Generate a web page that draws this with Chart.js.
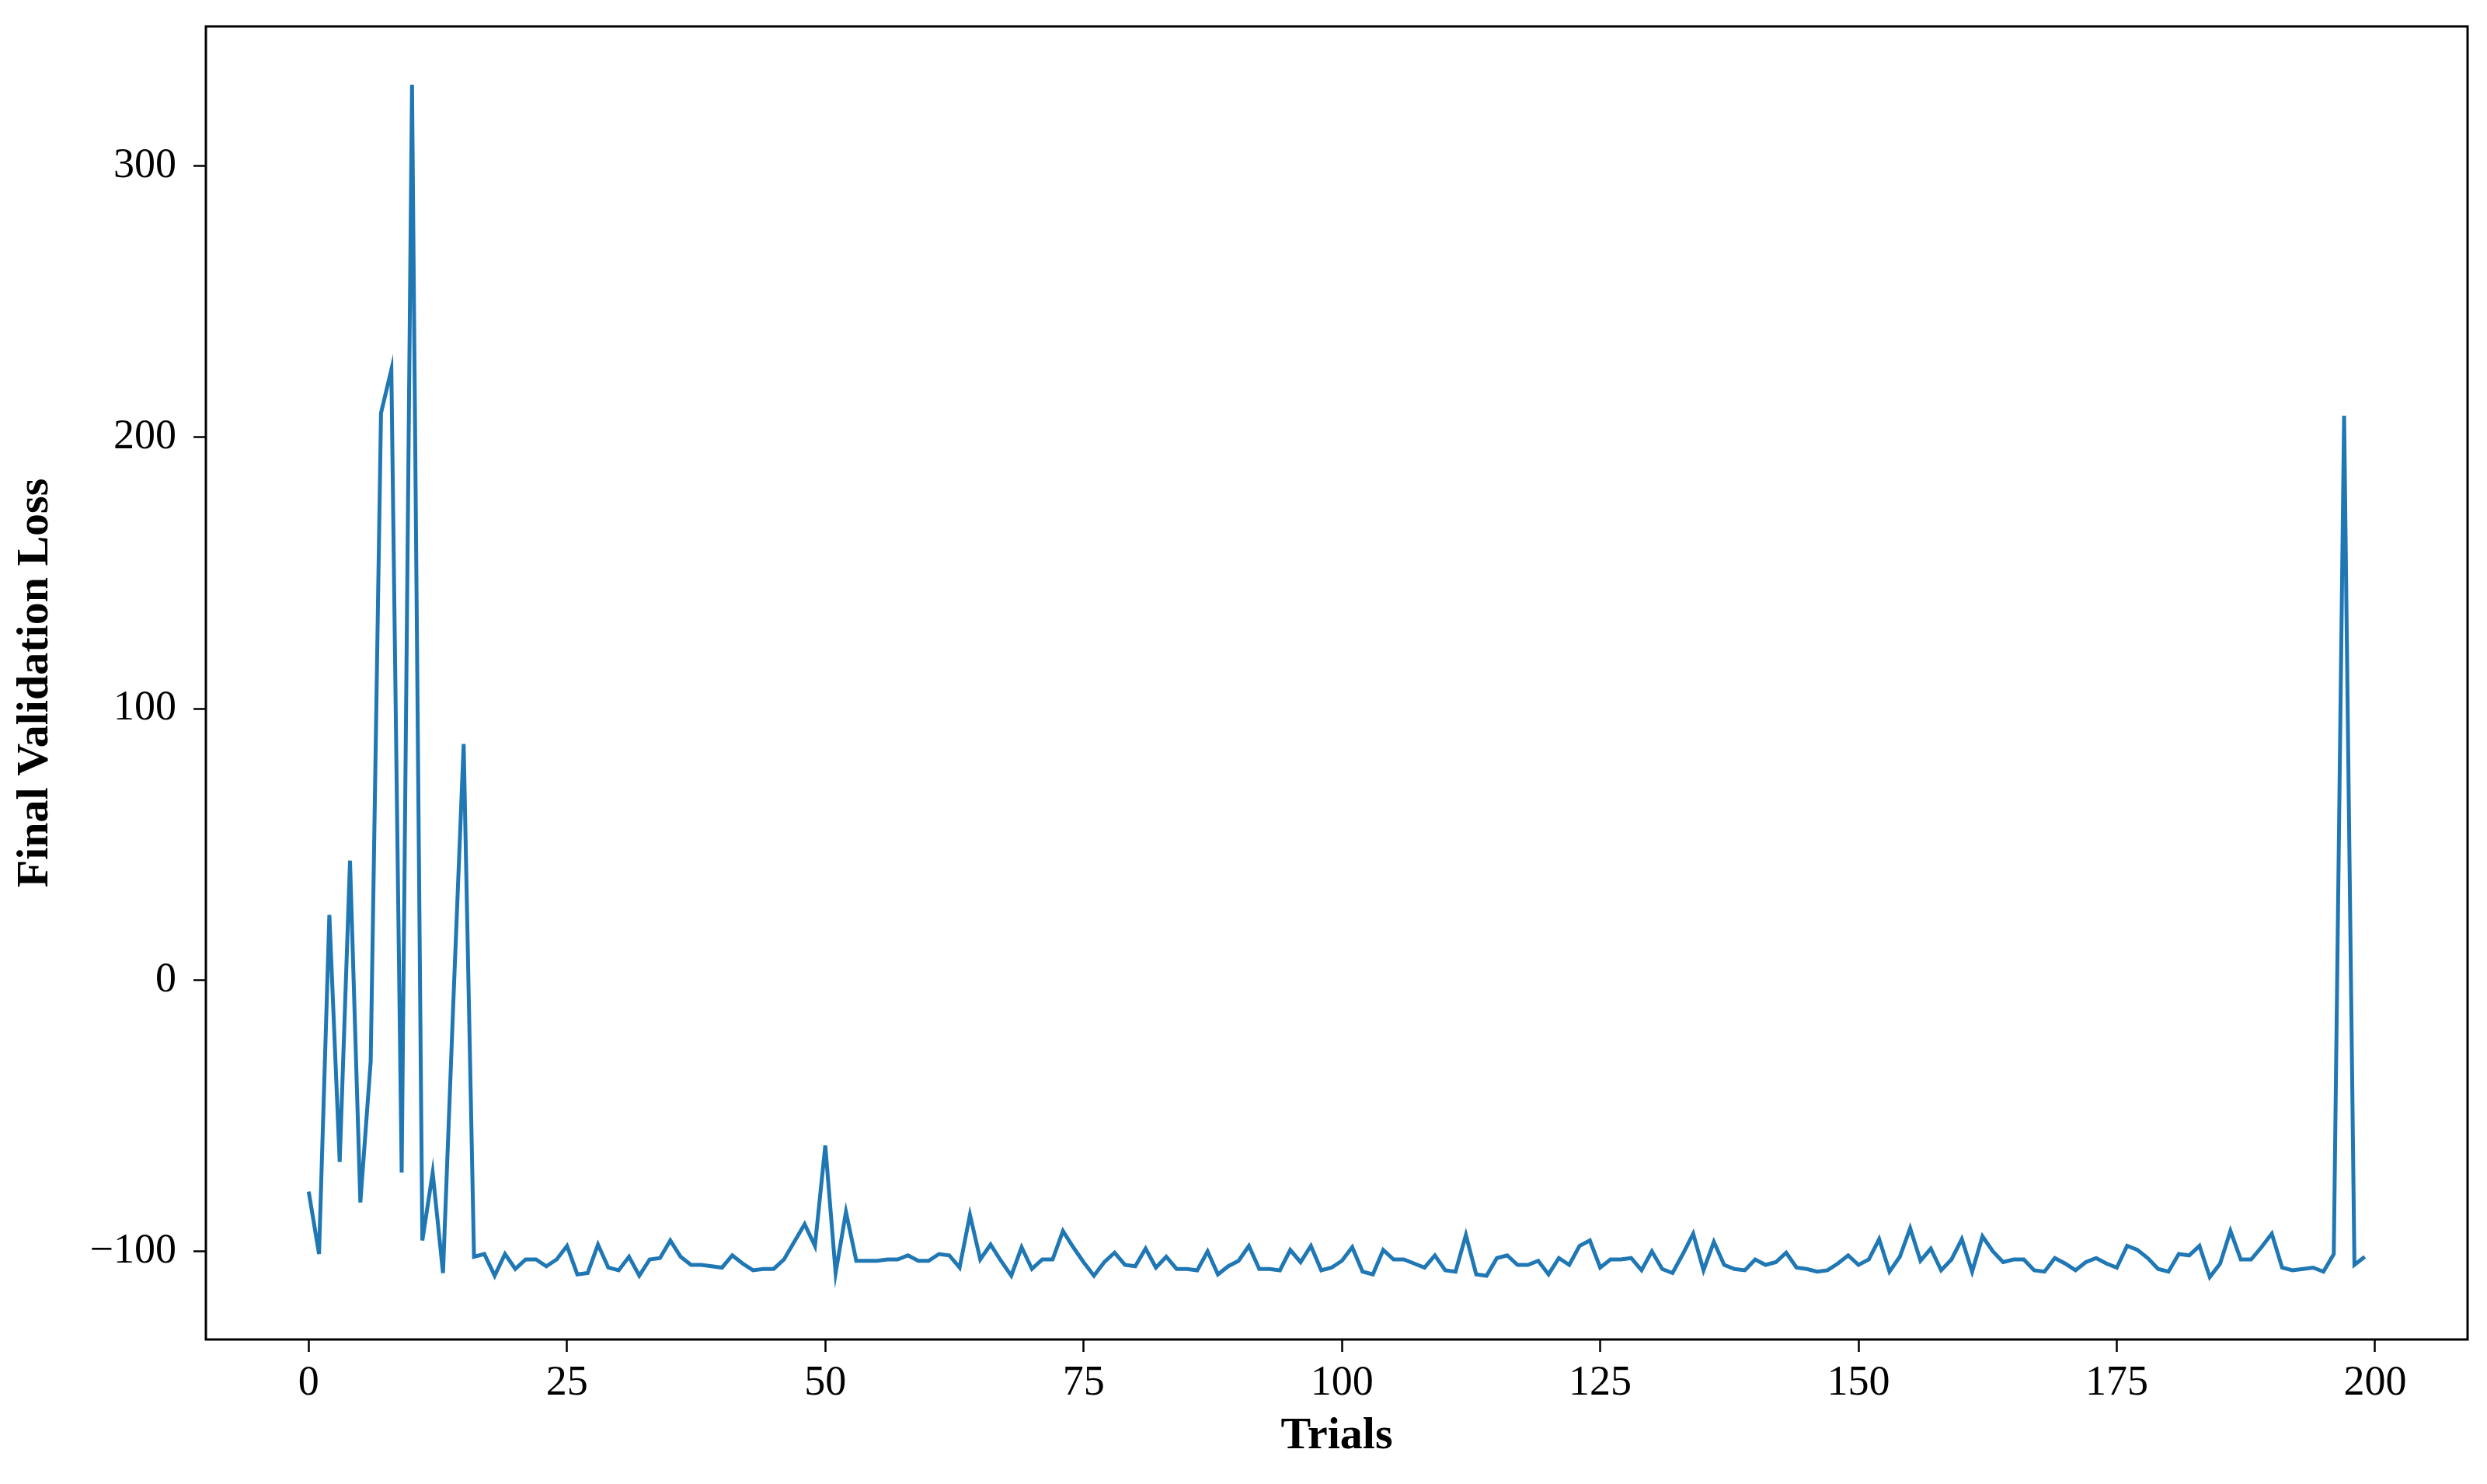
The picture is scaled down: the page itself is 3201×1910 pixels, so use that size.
<!DOCTYPE html>
<html>
<head>
<meta charset="utf-8">
<title>Final Validation Loss</title>
<script src="https://cdn.jsdelivr.net/npm/chart.js@4.4.0/dist/chart.umd.min.js"></script>
<style>
  html, body { margin: 0; padding: 0; background: #fff; }
  #wrap { width: 3201px; height: 1910px; }
</style>
</head>
<body>
<div id="wrap"><canvas id="chart" width="3201" height="1910"></canvas></div>
<script>
// final validation loss per trial
const finalLoss = [
  -78, -101, 24, -67, 44, -82, -30, 209, 225, -71,
  330, -96, -71, -108, -8, 87, -102, -101, -109, -101,
  -106.5, -103, -103, -105.5, -103, -98, -108.5, -108, -97.5, -106,
  -107, -102, -109, -103, -102.5, -96, -102, -105, -105, -105.5,
  -106, -101.5, -104.5, -107, -106.5, -106.5, -103, -96.5, -90, -98,
  -61, -108, -85.5, -103.5, -103.5, -103.5, -103, -103, -101.5, -103.5,
  -103.5, -101, -101.5, -106, -86.5, -103, -97.5, -103.5, -109, -98.5,
  -106.5, -103, -103, -92.5, -98.5, -104, -109, -104, -100.5, -105,
  -105.5, -99, -106, -102, -106.5, -106.5, -107, -100, -108.5, -105.5,
  -103.5, -98, -106.5, -106.5, -107, -99.5, -104, -98, -107, -106,
  -103.5, -98.5, -107.5, -108.5, -99.5, -103, -103, -104.5, -106, -101.5,
  -107, -107.5, -94, -108.5, -109, -102.5, -101.5, -105, -105, -103.5,
  -108.5, -102.5, -105, -98, -96, -106, -103, -103, -102.5, -107,
  -100, -106.5, -108, -101, -93.5, -107, -96.5, -105, -106.5, -107,
  -103, -105, -104, -100.5, -106, -106.5, -107.5, -107, -104.5, -101.5,
  -105, -103, -95.5, -107.5, -102, -91.5, -103.5, -99, -107, -103,
  -95.5, -107.5, -94.5, -100, -104, -103, -103, -107, -107.5, -102.5,
  -104.5, -107, -104, -102.5, -104.5, -106, -98, -99.5, -102.5, -106.5,
  -107.5, -101, -101.5, -98, -109.5, -104.5, -92.5, -103, -103, -98.5,
  -93.5, -106, -107, -106.5, -106, -107.5, -101, 208, -105, -102
];
const trials = finalLoss.map((_, i) => i);

const xTicks = [0, 25, 50, 75, 100, 125, 150, 175, 200];
const yTicks = [-100, 0, 100, 200, 300];

const FONT = "'Liberation Serif', 'DejaVu Serif', serif";

// matplotlib-style box around the plot area
const frame = {
  id: "frame",
  afterDatasetsDraw(chart) {
    const { ctx, chartArea: a } = chart;
    ctx.save();
    ctx.strokeStyle = "#000";
    ctx.lineWidth = 3;
    ctx.strokeRect(a.left, a.top, a.right - a.left, a.bottom - a.top);
    ctx.restore();
  },
};

const tickGrid = {
  display: true,
  drawOnChartArea: false,
  drawTicks: true,
  tickLength: 16,
  tickWidth: 2.5,
  tickColor: "#000",
};

new Chart(document.getElementById("chart"), {
  type: "line",
  data: {
    datasets: [
      {
        label: "Final Validation Loss",
        data: trials.map((t, i) => ({ x: t, y: finalLoss[i] })),
        borderColor: "#1f77b4",
        borderWidth: 5,
        pointRadius: 0,
        tension: 0,
        fill: false,
      },
    ],
  },
  options: {
    responsive: false,
    animation: false,
    devicePixelRatio: 1,
    layout: { padding: { left: 0, right: 25, top: 34, bottom: 0 } },
    plugins: {
      legend: { display: false },
      tooltip: { enabled: false },
    },
    scales: {
      x: {
        type: "linear",
        min: -9.95,
        max: 208.95,
        grid: tickGrid,
        border: { display: false },
        afterBuildTicks: (scale) => {
          scale.ticks = xTicks.map((v) => ({ value: v }));
        },
        afterFit: (scale) => {
          scale.height = 186;
          scale.paddingLeft = 0;
          scale.paddingRight = 0;
        },
        ticks: {
          color: "#000",
          padding: 8,
          maxRotation: 0,
          font: { family: FONT, size: 54 },
        },
        title: {
          display: true,
          text: "Trials",
          color: "#000",
          padding: { top: 0, bottom: 26 },
          font: { family: FONT, size: 58, weight: "bold" },
        },
      },
      y: {
        type: "linear",
        min: -132.5,
        max: 351.5,
        grid: tickGrid,
        border: { display: false },
        afterBuildTicks: (scale) => {
          scale.ticks = yTicks.map((v) => ({ value: v }));
        },
        afterFit: (scale) => {
          scale.width = 265;
          scale.paddingTop = 0;
          scale.paddingBottom = 0;
        },
        ticks: {
          color: "#000",
          padding: 22,
          font: { family: FONT, size: 54 },
          callback: (v) => (v < 0 ? "\u2212" + Math.abs(v) : String(v)),
        },
        title: {
          display: true,
          text: "Final Validation Loss",
          color: "#000",
          padding: { top: 11, bottom: 0 },
          font: { family: FONT, size: 58, weight: "bold" },
        },
      },
    },
  },
  plugins: [frame],
});
</script>
</body>
</html>
